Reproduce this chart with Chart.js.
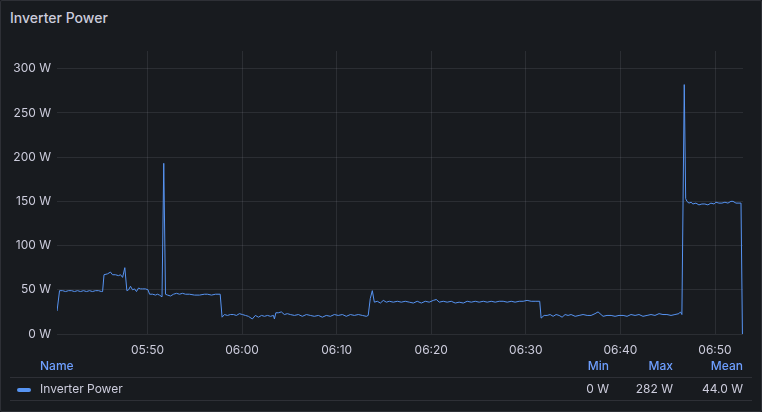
<!DOCTYPE html>
<html>
<head>
<meta charset="utf-8">
<script src="https://cdn.jsdelivr.net/npm/chart.js@4.4.1/dist/chart.umd.min.js"></script>
<style>
  html, body { margin: 0; padding: 0; background: #111217; }
  body { width: 762px; height: 412px; overflow: hidden; font-family: Inter, "Noto Sans", sans-serif; }
  #panel {
    position: absolute; left: 0; top: 0; width: 760px; height: 410px;
    background: #181b1f; border: 1px solid rgba(204,204,220,0.12); border-radius: 2px;
  }
  #title { position: absolute; left: 9px; top: 8px; font-size: 14px; font-weight: 500; color: #ccccdc; }
  #wrap { position: absolute; left: -1px; top: 1px; width: 762px; height: 362px; }
  .lg { position: absolute; font-size: 12px; line-height: 14px; white-space: nowrap; }
  .hd { color: #6e9fff; font-weight: 500; }
  .tx { color: #ccccdc; }
  .r { text-align: right; }
  .sep { position: absolute; left: 10px; width: 742px; height: 1px; background: rgba(204,204,220,0.12); }
  #swatch { position: absolute; left: 17px; top: 388px; width: 14px; height: 4px; border-radius: 2px; background: #5794f2; }
</style>
</head>
<body>
<div id="panel">
  <div id="title">Inverter Power</div>
</div>
<div id="wrap"><canvas id="chart"></canvas></div>

<div class="lg hd" style="left:40px; top:359px;">Name</div>
<div class="lg hd r" style="left:569px; width:40px; top:359px;">Min</div>
<div class="lg hd r" style="left:633px; width:40px; top:359px;">Max</div>
<div class="lg hd r" style="left:693px; width:50px; top:359px;">Mean</div>
<div class="sep" style="top:377px;"></div>
<div id="swatch"></div>
<div class="lg tx" style="left:40px; top:382px;">Inverter Power</div>
<div class="lg tx r" style="left:569px; width:40px; top:382px;">0 W</div>
<div class="lg tx r" style="left:623px; width:50px; top:382px;">282 W</div>
<div class="lg tx r" style="left:683px; width:60px; top:382px;">44.0 W</div>
<div class="sep" style="top:400px;"></div>

<script>
// 采样时间与功率 (W)
const times = [
    '05:40:26', '05:40:42', '05:41:01', '05:41:20', '05:41:39', '05:41:58', '05:42:17', '05:42:36',
    '05:42:55', '05:43:14', '05:43:33', '05:43:52', '05:44:11', '05:44:30', '05:44:49', '05:45:08',
    '05:45:15', '05:45:24', '05:45:46', '05:46:05', '05:46:18', '05:46:37', '05:46:56', '05:47:09',
    '05:47:22', '05:47:36', '05:47:49', '05:48:00', '05:48:12', '05:48:25', '05:48:38', '05:48:50',
    '05:49:03', '05:49:16', '05:49:28', '05:49:47', '05:50:03', '05:50:13', '05:50:32', '05:50:51',
    '05:51:03', '05:51:16', '05:51:32', '05:51:43', '05:51:54', '05:52:07', '05:52:26', '05:52:45',
    '05:53:04', '05:53:23', '05:53:42', '05:54:01', '05:54:26', '05:54:58', '05:55:30', '05:56:01',
    '05:56:20', '05:56:46', '05:57:11', '05:57:41', '05:57:53', '05:58:08', '05:58:27', '05:58:46',
    '05:59:05', '05:59:24', '05:59:43', '06:00:02', '06:00:21', '06:00:40', '06:01:05', '06:01:24',
    '06:01:44', '06:02:03', '06:02:22', '06:02:41', '06:03:00', '06:03:19', '06:03:25', '06:03:34',
    '06:03:50', '06:04:09', '06:04:28', '06:04:47', '06:05:06', '06:05:32', '06:05:57', '06:06:22',
    '06:06:48', '06:07:13', '06:07:38', '06:08:04', '06:08:29', '06:08:54', '06:09:20', '06:09:45',
    '06:10:10', '06:10:36', '06:11:01', '06:11:27', '06:11:52', '06:12:17', '06:12:43', '06:13:08',
    '06:13:20', '06:13:33', '06:13:46', '06:13:59', '06:14:18', '06:14:37', '06:14:56', '06:15:15',
    '06:15:34', '06:15:59', '06:16:25', '06:16:50', '06:17:15', '06:17:41', '06:18:06', '06:18:31',
    '06:18:57', '06:19:22', '06:19:47', '06:20:13', '06:20:32', '06:20:51', '06:21:16', '06:21:41',
    '06:22:07', '06:22:32', '06:22:57', '06:23:23', '06:23:48', '06:24:14', '06:24:39', '06:25:04',
    '06:25:30', '06:25:55', '06:26:20', '06:26:46', '06:27:11', '06:27:36', '06:28:02', '06:28:27',
    '06:28:52', '06:29:18', '06:29:43', '06:30:08', '06:30:34', '06:30:59', '06:31:28', '06:31:37',
    '06:31:56', '06:32:15', '06:32:34', '06:32:53', '06:33:12', '06:33:31', '06:33:50', '06:34:09',
    '06:34:28', '06:34:47', '06:35:13', '06:35:38', '06:36:03', '06:36:29', '06:36:54', '06:37:19',
    '06:37:38', '06:37:57', '06:38:10', '06:38:35', '06:39:01', '06:39:26', '06:39:51', '06:40:17',
    '06:40:42', '06:41:07', '06:41:33', '06:41:58', '06:42:23', '06:42:49', '06:43:14', '06:43:39',
    '06:44:05', '06:44:30', '06:44:55', '06:45:21', '06:45:46', '06:46:11', '06:46:21', '06:46:30',
    '06:46:45', '06:46:54', '06:47:02', '06:47:15', '06:47:28', '06:47:40', '06:47:59', '06:48:18',
    '06:48:37', '06:48:56', '06:49:15', '06:49:34', '06:49:54', '06:50:06', '06:50:25', '06:50:44',
    '06:51:03', '06:51:22', '06:51:41', '06:51:54', '06:52:13', '06:52:32', '06:52:45', '06:52:54'
];

const watts = [
    26, 49, 49, 48, 49, 49, 48, 49,
    48, 49, 48, 49, 48, 49, 49, 48,
    48, 67, 68, 70, 67, 67, 66, 67,
    64, 75, 49, 50, 54, 50, 51, 48,
    52, 51, 51, 51, 50, 45, 45, 44,
    45, 44, 42, 193, 45, 44, 43, 45,
    46, 45, 46, 45, 45, 44, 44, 45,
    45, 44, 45, 45, 19, 22, 21, 22,
    22, 21, 23, 22, 21, 20, 17, 21,
    19, 21, 20, 21, 20, 21, 17, 24,
    24, 25, 22, 23, 22, 21, 22, 20,
    22, 21, 20, 21, 19, 21, 20, 22,
    21, 22, 20, 22, 21, 22, 21, 20,
    21, 40, 49, 36, 37, 35, 38, 36,
    37, 36, 37, 36, 37, 36, 35, 37,
    35, 37, 36, 38, 39, 36, 37, 36,
    37, 35, 36, 35, 37, 36, 37, 36,
    37, 36, 37, 36, 37, 37, 36, 37,
    36, 37, 37, 38, 37, 37, 37, 18,
    21, 21, 22, 20, 22, 21, 19, 22,
    21, 22, 20, 21, 22, 21, 21, 23,
    25, 22, 20, 21, 21, 20, 21, 21,
    20, 22, 21, 22, 20, 21, 22, 21,
    23, 22, 22, 21, 22, 23, 25, 22,
    282, 153, 150, 148, 149, 147, 148, 146,
    147, 147, 146, 148, 147, 149, 148, 148,
    149, 148, 150, 150, 148, 148, 148, 0
];

// x 轴刻度 (分钟，自 05:00 起) 与 y 轴刻度
const xTicks = [50, 60, 70, 80, 90, 100, 110];
const yTicks = [0, 50, 100, 150, 200, 250, 300];
const xRange = [40.43, 112.96];
const yRange = [0, 320];

function toMinutes(t) {
    const [h, m, s] = t.split(':').map(Number);
    return (h - 5) * 60 + m + s / 60;
}

function fmtTime(v) {
    const total = Math.round(v);
    const h = 5 + Math.floor(total / 60);
    const m = total % 60;
    return String(h).padStart(2, '0') + ':' + String(m).padStart(2, '0');
}

const points = times.map((t, i) => ({ x: toMinutes(t), y: watts[i] }));

const gridColor = 'rgba(204,204,220,0.11)';
const textColor = '#ccccdc';

new Chart(document.getElementById('chart'), {
    type: 'line',
    data: {
        datasets: [{
            label: 'Inverter Power',
            data: points,
            borderColor: '#5794f2',
            borderWidth: 1,
            pointRadius: 0,
            tension: 0,
            fill: false
        }]
    },
    options: {
        responsive: true,
        maintainAspectRatio: false,
        animation: false,
        layout: {
            padding: { left: 8, right: 18, top: 50, bottom: 2 }
        },
        plugins: {
            legend: { display: false },
            tooltip: { enabled: false }
        },
        scales: {
            x: {
                type: 'linear',
                min: xRange[0],
                max: xRange[1],
                afterBuildTicks: scale => { scale.ticks = xTicks.map(v => ({ value: v })); },
                afterFit: scale => { scale.height = 27; },
                grid: { color: gridColor, drawTicks: false },
                border: { display: false },
                ticks: {
                    color: textColor,
                    font: { family: 'Inter', size: 12 },
                    padding: 9,
                    maxRotation: 0,
                    callback: v => fmtTime(v)
                }
            },
            y: {
                min: yRange[0],
                max: yRange[1],
                afterBuildTicks: scale => { scale.ticks = yTicks.map(v => ({ value: v })); },
                afterFit: scale => { scale.width = 50; },
                grid: { color: gridColor, drawTicks: false },
                border: { display: false },
                ticks: {
                    color: textColor,
                    font: { family: 'Inter', size: 12 },
                    padding: 6,
                    callback: v => v + ' W'
                }
            }
        }
    }
});
</script>
</body>
</html>
